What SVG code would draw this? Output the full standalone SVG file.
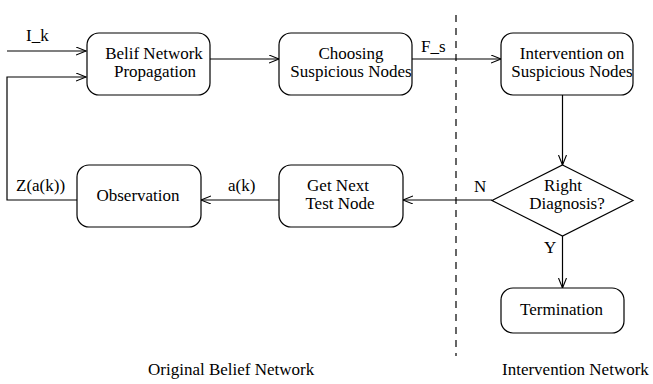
<svg xmlns="http://www.w3.org/2000/svg" width="653" height="384" viewBox="0 0 653 384">
<defs>
<marker id="arr" markerWidth="12" markerHeight="10" refX="10" refY="4" orient="auto" markerUnits="userSpaceOnUse">
<path d="M0,0 L10,4 L0,8" fill="none" stroke="#000" stroke-width="1.1"/>
</marker>
<style>
.box{fill:#fff;stroke:#000;stroke-width:1.2}
text{font-family:'Liberation Serif','Times New Roman',Times,serif;font-size:17px;fill:#000}
.c{text-anchor:middle}
.ln{fill:none;stroke:#000;stroke-width:1.2}
.a{marker-end:url(#arr)}
</style>
</defs>
<rect width="653" height="384" fill="#fff"/>
<g id="connectors">
<line class="ln a" x1="7" y1="51" x2="86" y2="51"/>
<polyline class="ln a" points="77,200 7,200 7,77 86,77"/>
<line class="ln a" x1="210" y1="59" x2="279" y2="59"/>
<line class="ln a" x1="412" y1="59" x2="501" y2="59"/>
<line class="ln a" x1="562.5" y1="95" x2="562.5" y2="165"/>
<line class="ln a" x1="492" y1="200" x2="403" y2="200"/>
<line class="ln a" x1="279" y1="200" x2="201" y2="200"/>
<line class="ln a" x1="562.5" y1="236" x2="562.5" y2="288"/>
<text x="26" y="41">I_k</text>
<text x="421" y="52">F_s</text>
<text x="16" y="191">Z(a(k))</text>
<text x="228" y="191">a(k)</text>
<text x="474" y="192">N</text>
<text x="544" y="253">Y</text>
</g>
<line id="divider" x1="456" y1="15" x2="456" y2="356" stroke="#000" stroke-width="1.2" stroke-dasharray="7,6"/>
<g id="belief">
<rect class="box" x="87" y="33" width="123" height="62" rx="12"/>
<text class="c" x="154" y="59">Belif Network</text>
<text class="c" x="155" y="77">Propagation</text>
</g>
<g id="choosing">
<rect class="box" x="279" y="33" width="133" height="62" rx="12"/>
<text class="c" x="351" y="59">Choosing</text>
<text class="c" x="351" y="77">Suspicious Nodes</text>
</g>
<g id="intervention">
<rect class="box" x="501" y="33" width="132" height="62" rx="12"/>
<text class="c" x="572" y="59">Intervention on</text>
<text class="c" x="572" y="77">Suspicious Nodes</text>
</g>
<g id="diagnosis">
<polygon class="box" points="562.5,165 633,200.5 562.5,236 492,200.5"/>
<text class="c" x="563" y="191">Right</text>
<text class="c" x="567" y="209">Diagnosis?</text>
</g>
<g id="getnext">
<rect class="box" x="279" y="165" width="124" height="62" rx="12"/>
<text class="c" x="338" y="191">Get Next</text>
<text class="c" x="340" y="209">Test Node</text>
</g>
<g id="observation">
<rect class="box" x="77" y="165" width="124" height="62" rx="12"/>
<text class="c" x="138" y="201">Observation</text>
</g>
<g id="termination">
<rect class="box" x="501" y="288" width="123" height="45" rx="12"/>
<text class="c" x="561.5" y="315">Termination</text>
</g>
<text x="148" y="375">Original Belief Network</text>
<text x="502" y="375">Intervention Network</text>
</svg>
